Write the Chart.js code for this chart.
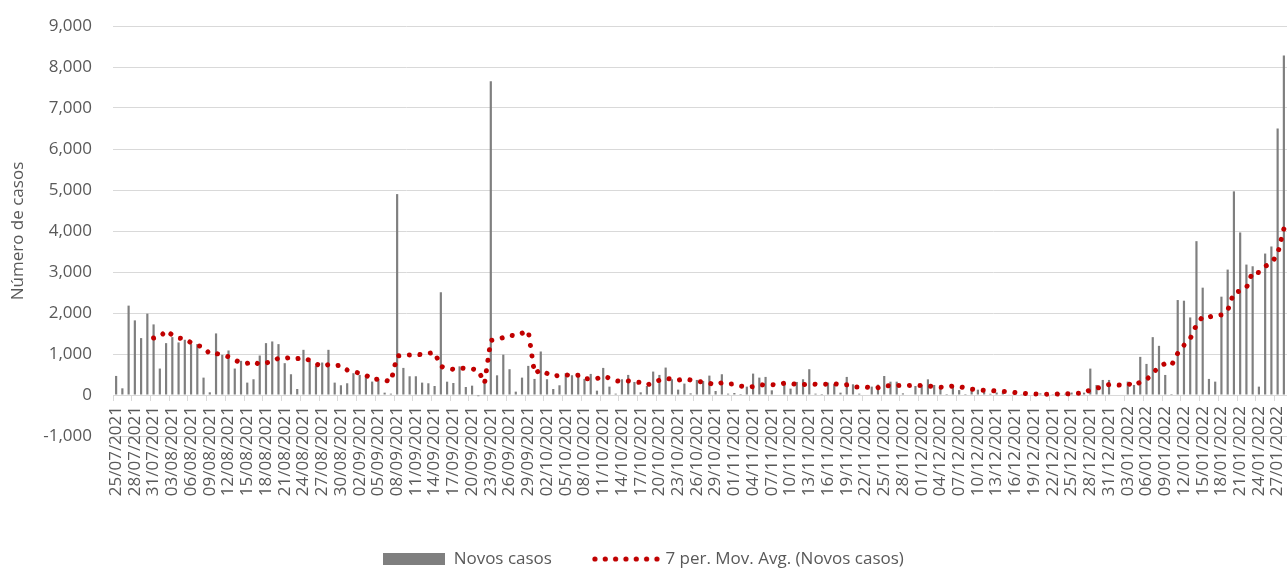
<!DOCTYPE html>
<html>
<head>
<meta charset="utf-8">
<script src="https://cdn.jsdelivr.net/npm/chart.js@4.4.1/dist/chart.umd.min.js"></script>
<style>
  html, body { margin: 0; padding: 0; background: #fff; }
  #grafico { display: block; }
</style>
</head>
<body>
<canvas id="grafico" width="1287" height="570"></canvas>
<script>
// novos casos diarios, 25/07/2021 a 28/01/2022
let novosCasos = [
  465, 163, 2180, 1820, 1388, 1984, 1722, 645, 1265, 1412,
  1282, 1347, 1241, 1241, 424, 65, 1502, 980, 1086, 645,
  833, 302, 384, 963, 1265, 1306, 1241, 776, 506, 147,
  1102, 833, 710, 792, 1102, 302, 237, 286, 531, 490,
  450, 327, 392, 57, 33, 4900, 661, 457, 457, 302,
  286, 220, 2506, 325, 293, 699, 195, 228, -30, 293,
  7650, 480, 984, 629, 82, 424, 710, 392, 1061, 384,
  147, 237, 531, 482, 531, 392, 514, 106, 661, 204,
  33, 384, 490, 318, 65, 220, 571, 490, 669, 384,
  131, 278, 40, 367, 343, 473, 98, 506, 33, 49,
  24, 204, 522, 424, 441, 114, 0, 327, 155, 318,
  384, 629, 33, 24, 302, 261, 57, 441, 261, 33,
  0, 204, 253, 463, 325, 325, 40, 0, 220, 244,
  382, 244, 203, 24, 203, 120, 24, 180, 130, 100,
  30, 60, 60, 10, 20, 20, 0, 0, 40, 30,
  20, 50, 30, 60, 50, 57, 644, 245, 367, 367,
  0, 0, 326, 245, 930, 758, 1411, 1199, 489, 25,
  2316, 2300, 1892, 3752, 2618, 392, 326, 2398, 3059, 4967,
  3964, 3181, 3140, 204, 3450, 3622, 6501, 8279
];

let dataInicial = [2021, 6, 25];   // 25/07/2021
let periodoMedia = 7;
let yTicks = { min: -1000, max: 9000, passo: 1000 };

// datas do eixo x
let datas = [];
for (let i = 0; i < novosCasos.length; i++) {
  let d = new Date(dataInicial[0], dataInicial[1], dataInicial[2] + i);
  let dd = String(d.getDate()).padStart(2, '0');
  let mm = String(d.getMonth() + 1).padStart(2, '0');
  datas.push(dd + '/' + mm + '/' + d.getFullYear());
}

// media movel de 7 periodos (linha de tendencia)
let mediaMovel = novosCasos.map((v, i) => {
  if (i < periodoMedia - 1) return null;
  let soma = 0;
  for (let k = i - periodoMedia + 1; k <= i; k++) soma += novosCasos[k];
  return soma / periodoMedia;
});

// simbolos da legenda
function simboloBarra() {
  let c = document.createElement('canvas');
  c.width = 62; c.height = 12;
  let g = c.getContext('2d');
  g.fillStyle = '#7f7f7f';
  g.fillRect(0, 0, 62, 12);
  return c;
}
function simboloPontos() {
  let c = document.createElement('canvas');
  c.width = 68; c.height = 6;
  let g = c.getContext('2d');
  g.fillStyle = '#c00000';
  for (let i = 0; i < 7; i++) {
    g.beginPath();
    g.arc(3 + i * 10.33, 3, 2.6, 0, Math.PI * 2);
    g.fill();
  }
  return c;
}
let iconeBarra = simboloBarra();
let iconePontos = simboloPontos();

Chart.defaults.font.family = "'Open Sans', sans-serif";
Chart.defaults.font.size = 17;
Chart.defaults.color = '#595959';

let grafico = new Chart(document.getElementById('grafico'), {
  type: 'bar',
  data: {
    labels: datas,
    datasets: [
      {
        type: 'bar',
        label: 'Novos casos',
        data: novosCasos,
        backgroundColor: '#7f7f7f',
        barPercentage: 0.35,
        categoryPercentage: 1,
        order: 1
      },
      {
        type: 'line',
        label: '7 per. Mov. Avg. (Novos casos)',
        data: mediaMovel,
        borderColor: '#c00000',
        backgroundColor: '#c00000',
        borderWidth: 5,
        borderDash: [0.01, 10.6],
        borderCapStyle: 'round',
        pointRadius: 0,
        tension: 0,
        fill: false,
        order: 0
      }
    ]
  },
  options: {
    responsive: false,
    animation: false,
    layout: { padding: { top: 26, right: 0, bottom: -7.5, left: 0 } },
    scales: {
      x: {
        position: { y: 0 },
        grid: {
          offset: true,
          drawOnChartArea: false,
          drawTicks: true,
          tickLength: 5,
          color: (ctx) => (ctx.index % 3 === 0 ? '#d9d9d9' : 'rgba(0,0,0,0)')
        },
        border: { display: true, color: '#d9d9d9' },
        ticks: {
          autoSkip: false,
          minRotation: 90,
          maxRotation: 90,
          padding: 6,
          callback: function (value, index) {
            return index % 3 === 0 ? this.getLabelForValue(value) : '';
          }
        },
        afterFit: (s) => { s.paddingLeft = 0; s.paddingRight = 0; s.paddingTop = 0; s.paddingBottom = 0; }
      },
      y: {
        min: yTicks.min,
        max: yTicks.max,
        border: { display: false },
        grid: { color: '#d9d9d9', drawTicks: false },
        ticks: {
          stepSize: yTicks.passo,
          padding: 21,
          callback: (v) => v.toLocaleString('en-US')
        },
        title: {
          display: true,
          text: 'Número de casos',
          padding: { top: 8, bottom: 0 }
        },
        afterFit: (s) => { s.width = 113; s.paddingTop = 0; s.paddingBottom = 0; }
      }
    },
    plugins: {
      tooltip: { enabled: false },
      legend: {
        position: 'bottom',
        title: { display: true, text: '', font: { size: 10 }, padding: { top: 0, bottom: 59.5 } },
        labels: {
          usePointStyle: true,
          pointStyleWidth: 62,
          padding: 43,
          generateLabels: function (chart) {
            let itens = Chart.defaults.plugins.legend.labels.generateLabels(chart);
            itens.sort((a, b) => a.datasetIndex - b.datasetIndex);
            itens.forEach((it) => {
              it.pointStyle = it.datasetIndex === 0 ? iconeBarra : iconePontos;
            });
            return itens;
          }
        }
      }
    }
  }
});
</script>
</body>
</html>
